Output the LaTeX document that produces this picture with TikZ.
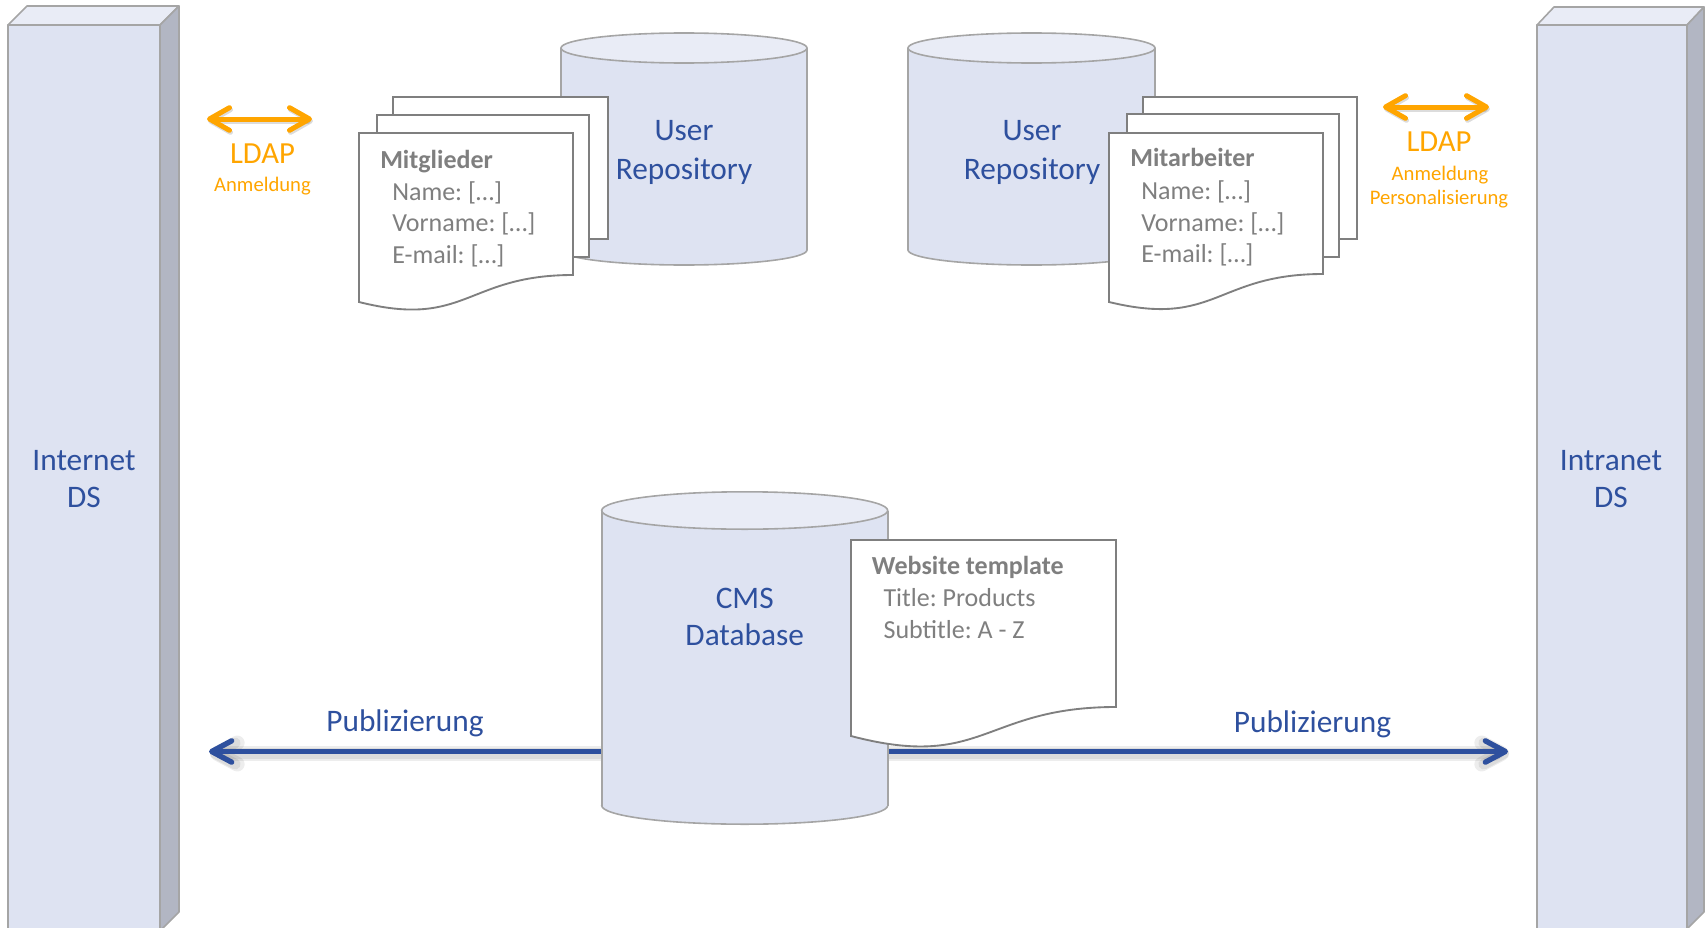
\documentclass[tikz,border=0pt]{standalone}
\usepackage{fontspec}
\setmainfont{Carlito}
\usetikzlibrary{arrows.meta}
\definecolor{dsblue}{RGB}{46,80,158}
\definecolor{ldaporange}{RGB}{255,165,0}
\definecolor{docgray}{RGB}{127,127,127}
\definecolor{frontfill}{RGB}{222,227,242}
\definecolor{topfill}{RGB}{233,236,246}
\definecolor{sidefill}{RGB}{178,182,195}
\definecolor{edgegray}{RGB}{165,165,165}
\frenchspacing
\newcommand\drawcyl[5]{%
  \fill[frontfill] (#1,#3) ellipse [x radius=#4, y radius=#5];
  \draw[cylline] (#1,#3) ellipse [x radius=#4, y radius=#5];
  \fill[frontfill] (#1-#4,#2) rectangle (#1+#4,#3);
  \draw[cylline] (#1-#4,#2) -- (#1-#4,#3) (#1+#4,#2) -- (#1+#4,#3);
  \filldraw[cylline, fill=topfill] (#1,#2) ellipse [x radius=#4, y radius=#5];
}
\begin{document}
\begin{tikzpicture}[x=0.75pt,y=-0.75pt,
  bluetxt/.style={font=\fontsize{23.5}{28}\selectfont, text=dsblue, inner sep=0pt, anchor=base},
  graytxt/.style={font=\fontsize{19.5}{24}\selectfont, text=docgray, inner sep=0pt, anchor=base west},
  graybold/.style={font=\fontsize{19.5}{24}\selectfont\bfseries, text=docgray, inner sep=0pt, anchor=base west},
  orbig/.style={font=\fontsize{23}{28}\selectfont, text=ldaporange, inner sep=0pt, anchor=base},
  orsmall/.style={font=\fontsize{15.5}{19}\selectfont, text=ldaporange, inner sep=0pt, anchor=base},
  sheet/.style={draw=docgray, line width=1.4pt, fill=white},
  pillar/.style={draw=edgegray, line width=1.2pt, line join=round},
  cylline/.style={draw=edgegray, line width=1.2pt},
  ldap/.style={draw=ldaporange, line width=3.75pt, line cap=round, >={Straight Barb[round,length=15pt,width=17pt]}, <->},
  pub/.style={draw=dsblue, line width=4pt, line cap=round, >={Straight Barb[round,length=15pt,width=16pt]}},
  glow/.style={draw=black, opacity=0.07, line width=#1, line cap=round},
]
\useasboundingbox (0,0) rectangle (1707,928);

% pillars
\filldraw[pillar, fill=frontfill] (8,25) rectangle (160,940);
\filldraw[pillar, fill=topfill] (8,25) -- (27,6) -- (179,6) -- (160,25) -- cycle;
\filldraw[pillar, fill=sidefill] (160,25) -- (179,6) -- (179,912) -- (160,931) -- cycle;
\filldraw[pillar, fill=frontfill] (1537,25) rectangle (1687,940);
\filldraw[pillar, fill=topfill] (1537,25) -- (1554,7) -- (1704,7) -- (1687,25) -- cycle;
\filldraw[pillar, fill=sidefill] (1687,25) -- (1704,7) -- (1704,912) -- (1687,929) -- cycle;
\node[bluetxt] (inet1) at (84,470) {Internet};
\node[bluetxt] (inet2) at (84,507.5) {DS};
\node[bluetxt] (intra1) at (1611,470) {Intranet};
\node[bluetxt] (intra2) at (1611,507.5) {DS};

% LDAP arrows
\coordinate (ldapLa) at (207,119);
\coordinate (ldapLb) at (312,119);
\coordinate (ldapRa) at (1383,107);
\coordinate (ldapRb) at (1489,107);
\foreach \w in {11pt,8pt}{
  \draw[glow=\w, ldap, draw=black, opacity=0.07] ([shift={(1,2)}]ldapLa) -- ([shift={(1,2)}]ldapLb);
  \draw[glow=\w, ldap, draw=black, opacity=0.07] ([shift={(1,2)}]ldapRa) -- ([shift={(1,2)}]ldapRb);
}
\draw[ldap] (ldapLa) -- (ldapLb);
\draw[ldap] (ldapRa) -- (ldapRb);
\node[orbig] (ldapL) at (262.5,163.3) {LDAP};
\node[orsmall] (anmL) at (262.5,191.7) {Anmeldung};
\node[orbig] (ldapR) at (1439,151.7) {LDAP};
\node[orsmall] (anmR) at (1440,180) {Anmeldung};
\node[orsmall] (persR) at (1439,204) {Personalisierung};

% Publizierung arrows
\coordinate (pubL) at (209,751.5);
\coordinate (pubR) at (1508,751.5);
\coordinate (cms) at (744.7,751.5);
\foreach \w in {11pt,8pt}{
  \draw[pub, ->, glow=\w, draw=black, opacity=0.07] ([shift={(1,2)}]cms) -- ([shift={(1,2)}]pubL);
  \draw[pub, ->, glow=\w, draw=black, opacity=0.07] ([shift={(1,2)}]cms) -- ([shift={(1,2)}]pubR);
}
\draw[pub, ->] (cms) -- (pubL);
\draw[pub, ->] (cms) -- (pubR);
\node[bluetxt] (publ) at (405,731.7) {Publizierung};
\node[bluetxt] (pubr) at (1312.5,732.3) {Publizierung};

% cylinders
\drawcyl{684}{48}{250}{123}{15}
\drawcyl{1031.5}{48}{250}{123.5}{15}
\drawcyl{744.7}{510.5}{805.5}{143}{18.7}

\node[bluetxt] (ur1a) at (684,140.7) {User};
\node[bluetxt] (ur1b) at (684,179.3) {Repository};
\node[bluetxt] (ur2a) at (1032,140.7) {User};
\node[bluetxt] (ur2b) at (1032,179.3) {Repository};
\node[bluetxt] (cmsa) at (744.7,608) {CMS};
\node[bluetxt] (cmsb) at (744.7,645.7) {Database};

% left document stack
\filldraw[sheet] (393,97) rectangle (608,239);
\filldraw[sheet] (377,115) rectangle (589,257);
\filldraw[sheet] (359,133) -- (573,133) -- (573,275) .. controls (466,275) and (466,329) .. (359,302) -- cycle;
\node[graybold] (mg) at (380,168.3) {Mitglieder};
\node[graytxt] (mg1) at (392,200) {Name: […]};
\node[graytxt] (mg2) at (392,231.7) {Vorname: […]};
\node[graytxt] (mg3) at (392,263.3) {E-mail: […]};

% right document stack
\filldraw[sheet] (1143,97) rectangle (1357,239);
\filldraw[sheet] (1127,114) rectangle (1339,257);
\filldraw[sheet] (1109,133) -- (1323,133) -- (1323,274) .. controls (1216,274) and (1216,328) .. (1109,302) -- cycle;
\node[graybold] (ma) at (1130,166.7) {Mitarbeiter};
\node[graytxt] (ma1) at (1141,199) {Name: […]};
\node[graytxt] (ma2) at (1141,231) {Vorname: […]};
\node[graytxt] (ma3) at (1141,262) {E-mail: […]};

% website template
\filldraw[sheet] (851,540) -- (1116,540) -- (1116,707) .. controls (983.5,707) and (983.5,771) .. (851,736) -- cycle;
\node[graybold] (wt) at (871.7,574) {Website template};
\node[graytxt] (wt1) at (883.3,606.7) {Title: Products};
\node[graytxt] (wt2) at (883.3,638) {Subtitle: A - Z};
\end{tikzpicture}
\end{document}
